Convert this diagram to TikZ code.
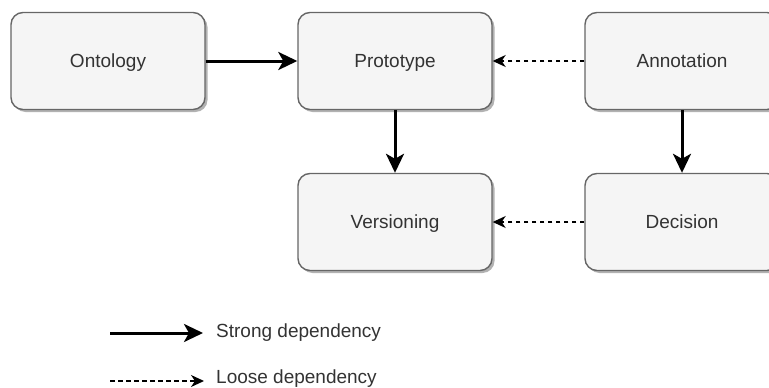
\documentclass[tikz,border=0pt]{standalone}
\usepackage{fontspec}
\setmainfont{Liberation Sans}
\usepackage{tikz}
\usetikzlibrary{arrows.meta,shadows,positioning}
\definecolor{boxfill}{HTML}{F5F5F5}
\definecolor{boxline}{HTML}{666666}
\definecolor{txtcol}{HTML}{333333}

\begin{document}
\begin{tikzpicture}[x=1pt,y=-1pt,
    font=\fontsize{19}{23}\selectfont,
    phase/.style={draw=boxline,fill=boxfill,line width=1.4pt,rounded corners=12pt,
      minimum width=194pt,minimum height=97pt,inner sep=0pt,text=txtcol,
      text height=13.6pt,text depth=0pt,
      drop shadow={shadow xshift=2.5pt,shadow yshift=-2.5pt,fill=black,opacity=0.3}},
    strong/.style={line width=3pt,-{Stealth[length=19pt,width=18pt,inset=5pt]}},
    loose/.style={line width=1.4pt,dash pattern=on 4.5pt off 3.5pt,-{Stealth[length=13pt,width=12pt,inset=4pt]}},
    legtxt/.style={anchor=base west,inner sep=0pt,text=txtcol}]
  \useasboundingbox (0,0) rectangle (769,388);
  \clip (0,0) rectangle (769,388);

  % the five phases
  \node[phase] (onto)  at (108,61)  {Ontology};
  \node[phase] (proto) at (395,61)  {Prototype};
  \node[phase] (annot) at (682,61)  {Annotation};
  \node[phase] (vers)  at (395,222) {Versioning};
  \node[phase] (dec)   at (682,222) {Decision};

  % dependencies
  \draw[strong] (onto) -- (proto);
  \draw[strong] (proto) -- (vers);
  \draw[strong] (annot) -- (dec);
  \draw[loose]  (annot) -- (proto);
  \draw[loose]  (dec) -- (vers);

  % legend
  \coordinate (s0) at (110,333);
  \coordinate (s1) at (203,333);
  \coordinate (l0) at (110,381);
  \coordinate (l1) at (204,381);
  \draw[strong] (s0) -- (s1);
  \draw[loose]  (l0) -- (l1);
  \node[legtxt] (strongtxt) at (216,337) {Strong dependency};
  \node[legtxt] (loosetxt)  at (216,383.5) {Loose dependency};
\end{tikzpicture}
\end{document}
